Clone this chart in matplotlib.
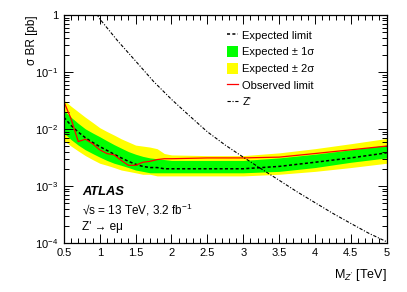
import math
import matplotlib
matplotlib.use("Agg")
import matplotlib.pyplot as plt
from matplotlib.lines import Line2D
from matplotlib.patches import Patch
from matplotlib.ticker import FixedLocator, MultipleLocator, FuncFormatter, LogLocator, NullFormatter

plt.rcParams['font.family'] = ['Liberation Sans', 'DejaVu Sans']
plt.rcParams['mathtext.fontset'] = 'custom'
plt.rcParams['mathtext.rm'] = 'Liberation Sans'
plt.rcParams['mathtext.it'] = 'Liberation Sans:italic'
plt.rcParams['mathtext.bf'] = 'Liberation Sans:bold'

# Z' mass points [TeV]
mass = [0.5, 0.6, 0.7, 0.8, 0.9, 1.0, 1.1, 1.2, 1.3, 1.4, 1.5, 1.6, 1.7, 1.8, 1.9,
        2.0, 2.5, 3.0, 3.5, 4.0, 4.5, 5.0]

# limits on sigma*BR [pb]
expected = [0.016, 0.0115, 0.0088, 0.0070, 0.0058, 0.0049, 0.0042, 0.0036, 0.0031, 0.0027,
            0.0024, 0.0022, 0.0021, 0.0021, 0.0020, 0.0020, 0.0020, 0.0020, 0.0022, 0.0026,
            0.0031, 0.0038]
observed = [0.030, 0.015, 0.0060, 0.0066, 0.0055, 0.0043, 0.0037, 0.0035, 0.0028, 0.0023,
            0.0023, 0.0026, 0.0027, 0.0029, 0.0030, 0.0030, 0.0031, 0.0031, 0.0032, 0.0037,
            0.0043, 0.0050]
sig1_up = [0.021, 0.016, 0.0125, 0.0100, 0.0085, 0.0073, 0.0062, 0.0053, 0.0046, 0.0040,
           0.0036, 0.0033, 0.0031, 0.0030, 0.0029, 0.0028, 0.0028, 0.0028, 0.0031, 0.0036,
           0.0043, 0.0052]
sig1_dn = [0.0085, 0.0065, 0.0052, 0.0043, 0.0037, 0.0032, 0.0028, 0.0025, 0.0023, 0.0021,
           0.0019, 0.0018, 0.0017, 0.0017, 0.0017, 0.0017, 0.0017, 0.0017, 0.0018, 0.0021,
           0.0026, 0.0031]
sig2_up = [0.032, 0.025, 0.020, 0.016, 0.0130, 0.0105, 0.0090, 0.0078, 0.0067, 0.0059,
           0.0052, 0.0050, 0.0048, 0.0045, 0.0037, 0.0035, 0.0034, 0.0034, 0.0038, 0.0045,
           0.0055, 0.0068]
sig2_dn = [0.0062, 0.0050, 0.0041, 0.0034, 0.0029, 0.0025, 0.0023, 0.0021, 0.0019, 0.0018,
           0.0017, 0.0016, 0.0016, 0.0015, 0.0015, 0.0015, 0.0015, 0.0015, 0.0016, 0.0018,
           0.0021, 0.0025]

# theory Z' cross section
zp_mass = [0.9, 1.0, 1.25, 1.5, 1.75, 2.0, 2.25, 2.5, 2.75, 3.0, 3.25, 3.5, 3.75, 4.0,
           4.25, 4.5, 4.75, 5.0]
zp_xsec = [1.35, 0.85, 0.35, 0.155, 0.068, 0.033, 0.017, 0.0089, 0.0052, 0.0032, 0.0020,
           0.00126, 0.00079, 0.00051, 0.00033, 0.00022, 0.000148, 0.000105]

fig = plt.figure(figsize=(4.07, 2.92), dpi=100)
ax = fig.add_axes([0.157, 0.168, 0.793, 0.781])

ax.fill_between(mass, sig2_dn, sig2_up, color='#ffff00', lw=0)
ax.fill_between(mass, sig1_dn, sig1_up, color='#00ff00', lw=0)
ax.plot(mass, expected, color='black', lw=1.1, linestyle=(0, (2, 1.5)))
ax.plot(mass, observed, color='red', lw=0.9)
ax.plot(zp_mass, zp_xsec, color='black', lw=0.8, linestyle=(0, (3, 1.5, 1, 1.5)))

ax.set_yscale('log')
ax.set_xlim(0.5, 5)
ax.set_ylim(1e-4, 1)

ax.xaxis.set_major_locator(MultipleLocator(0.5))
ax.xaxis.set_minor_locator(MultipleLocator(0.1))
ax.xaxis.set_major_formatter(FuncFormatter(lambda v, p: f'{v:g}'))
ax.yaxis.set_major_locator(FixedLocator([1e-4, 1e-3, 1e-2, 1e-1, 1]))
ax.yaxis.set_minor_locator(LogLocator(base=10, subs=range(2, 10), numticks=20))
ax.yaxis.set_minor_formatter(NullFormatter())


def ylab(v, p):
    if v >= 1:
        return '1'
    return r'$10^{%d}$' % int(round(math.log10(v)))


ax.yaxis.set_major_formatter(FuncFormatter(ylab))
ax.tick_params(which='both', direction='in', top=True, right=True, labelsize=8, width=0.7)
ax.tick_params(which='major', length=6.5)
ax.tick_params(which='minor', length=3.3)
ax.tick_params(axis='x', pad=4)
ax.tick_params(axis='y', pad=4)
for s in ax.spines.values():
    s.set_linewidth(0.9)

ax.set_ylabel('σ BR [pb]', fontsize=8.5, loc='top')
ax.yaxis.set_label_coords(-0.081, 1.0)
ax.set_xlabel("M$_{Z'}$ [TeV]", fontsize=9, loc='right', labelpad=6)

handles = [
    Line2D([], [], color='black', lw=1.1, linestyle=(0, (2, 1.5))),
    Patch(facecolor='#00ff00', edgecolor='none'),
    Patch(facecolor='#ffff00', edgecolor='none'),
    Line2D([], [], color='red', lw=0.9),
    Line2D([], [], color='black', lw=0.8, linestyle=(0, (3, 1.5, 1, 1.5))),
]
labels = ['Expected limit', 'Expected ± 1σ', 'Expected ± 2σ', 'Observed limit', "Z'"]
ax.legend(handles, labels, loc='upper left', bbox_to_anchor=(0.505, 0.935), frameon=False,
          fontsize=8, borderpad=0, borderaxespad=0, handlelength=1.0, handleheight=1.1,
          handletextpad=0.4, labelspacing=0.5)

ax.text(0.056, 0.224, 'ATLAS', transform=ax.transAxes, fontsize=9.3, fontweight='bold',
        fontstyle='italic', va='center')
ax.text(0.056, 0.145, '√s = 13 TeV, 3.2 fb$^{-1}$', transform=ax.transAxes, fontsize=8.5,
        va='center')
ax.text(0.056, 0.07, "Z' → eμ", transform=ax.transAxes, fontsize=8.5, va='center')

fig.savefig('out.png', dpi=100)
